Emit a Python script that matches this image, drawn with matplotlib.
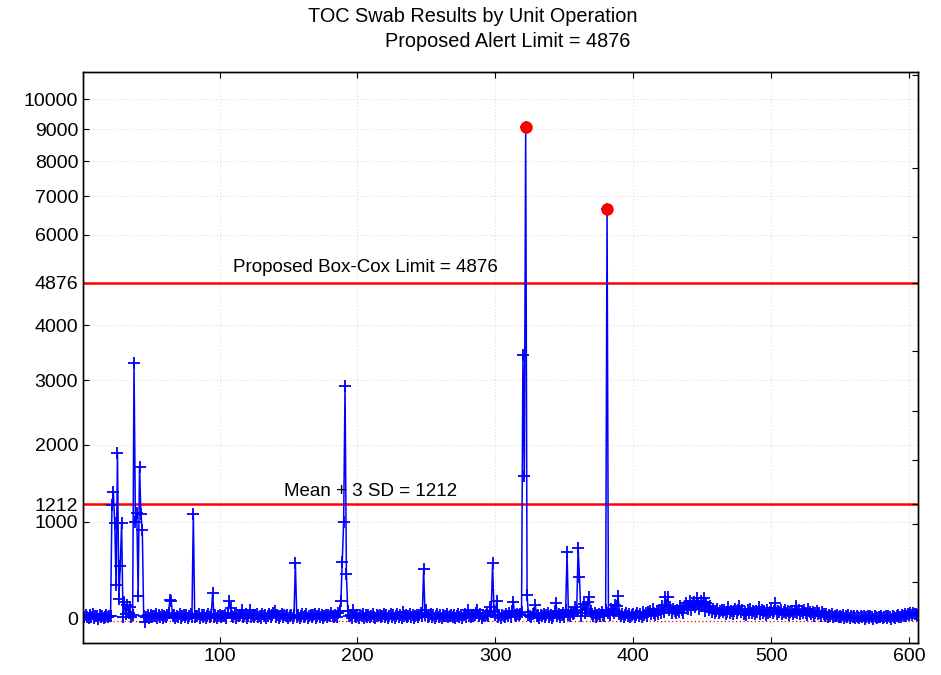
import numpy as np
import matplotlib
matplotlib.use("Agg")
from matplotlib import pyplot as plt

plt.rcParams['font.family'] = ['Liberation Sans', 'DejaVu Sans']

# TOC swab results, one value per sample
toc = [
    22, 8, 31, 15, 2, 27, 12, 35, 5, 18, 25, -2, 30, 10, 20, 4, 16, 34, 9, 23,
    20, 1200, 1365, 988, 317, 1876, 184, 510, 983, 10, 152, 35, 122, 50, 100, 10, 30, 3295, 1000, 1099,
    209, 1692, 1090, 904, 20, -30, 15, 28, 2, 32, 8, 23, 17, 36, 5, 26, 12, 30, 0, 21,
    14, 29, 45, 175, 160, 18, 34, 6, 25, 16, 38, 2, 20, 27, 10, 33, 4, 19, 40, 12,
    1090, 8, 24, 17, 35, 1, 28, 13, 31, 6, 22, 37, 10, 26, 241, 15, 30, 3, 21, 34,
    9, 25, 18, 32, 5, 50, 161, 92, 23, 14, 36, 7, 28, 19, 31, 76, 12, 25, 38, 4,
    20, 76, 16, 33, 8, 27, 40, 11, 24, 2, 35, 17, 29, 6, 22, 38, 13, 26, 45, 70,
    15, 30, 4, 23, 37, 9, 28, 18, 34, 1, 20, 32, 7, 26, 545, 16, 29, 5, 21, 36,
    12, 25, 38, 3, 19, 31, 10, 27, 42, 6, 23, 35, 14, 28, 2, 20, 33, 9, 26, 17,
    50, 24, 8, 32, 15, 45, 70, 160, 549, 1000, 2906, 430, 70, 18, 30, 5, 76, 23, 11, 34,
    7, 26, 19, 35, 2, 28, 14, 31, 9, 23, 37, 16, 4, 29, 20, 33, 8, 25, 40, 12,
    27, 1, 21, 36, 15, 30, 6, 24, 38, 11, 26, 3, 55, 18, 32, 9, 23, 35, 14, 28,
    5, 20, 34, 10, 26, 45, 17, 476, 30, 76, 8, 24, 37, 13, 29, 2, 21, 35, 16, 27,
    4, 31, 19, 25, 38, 9, 22, 33, 12, 28, 6, 20, 36, 15, 30, 3, 26, 40, 11, 76,
    24, 8, 34, 17, 29, 50, 76, 21, 35, 7, 26, 18, 32, 45, 23, 101, 60, 538, 70, 30,
    161, 15, 28, 4, 33, 20, 9, 37, 25, 50, 12, 70, 153, 31, 18, 40, 26, 35, 60, 3440,
    1570, 9075, 220, 30, 22, 8, 35, 50, 122, 17, 28, 5, 32, 20, 38, 11, 26, 45, 14, 30,
    7, 23, 70, 140, 19, 36, 9, 27, 50, 15, 80, 660, 31, 20, 60, 35, 45, 100, 70, 700,
    400, 25, 80, 130, 50, 90, 150, 195, 70, 35, 20, 50, 10, 28, 40, 17, 60, 32, 25, 80,
    6660, 50, 30, 90, 70, 45, 120, 110, 209, 40, 25, 38, 12, 30, 45, 20, 35, 8, 28, 42,
    16, 33, 50, 25, 40, 10, 60, 30, 45, 20, 55, 70, 35, 83, 50, 30, 65, 40, 80, 50,
    110, 60, 200, 120, 200, 80, 107, 50, 90, 65, 45, 80, 60, 110, 75, 50, 100, 140, 110, 90,
    161, 80, 120, 150, 100, 193, 130, 90, 160, 110, 193, 70, 138, 100, 80, 113, 60, 85, 50, 70,
    90, 45, 65, 80, 55, 75, 40, 60, 101, 50, 70, 35, 65, 85, 45, 75, 113, 55, 80, 40,
    60, 30, 75, 50, 85, 45, 65, 35, 70, 55, 101, 40, 80, 50, 65, 30, 75, 45, 60, 92,
    50, 70, 138, 40, 65, 55, 80, 35, 60, 75, 45, 65, 30, 55, 70, 40, 60, 113, 50, 75,
    35, 65, 45, 80, 50, 30, 83, 60, 40, 55, 25, 45, 65, 35, 50, 20, 61, 40, 25, 35,
    15, 30, 20, 35, 10, 25, 18, 32, 8, 23, 15, 28, 5, 20, 12, 26, 2, 18, 10, 24,
    6, 20, 14, 0, 22, 8, 17, -2, 15, 25, 4, 19, 10, -5, 21, 12, 2, 16, 8, 23,
    0, 14, 20, 5, 17, 10, -2, 22, 12, 4, 18, 26, 8, 15, 30, 20, 35, 25, 40, 28,
    45, 32, 50, 38, 42, 30,
]

alert_limit = 4876
mean_3sd = 1212
lower_ref = -25

y_ticks = [0, 1000, 1212, 2000, 3000, 4000, 4876, 6000, 7000, 8000, 9000, 10000]
right_ticks = [350, 970, 1212, 1780, 2510, 3510, 4876, 5950, 7810, 10900]
x_ticks = [100, 200, 300, 400, 500, 600]

SHIFT = 3500.0


def fwd(y):
    return np.log(np.maximum(np.asarray(y, dtype=float) + SHIFT, 1e-6))


def inv(v):
    return np.exp(v) - SHIFT


x = np.arange(1, len(toc) + 1)
vals = np.array(toc, dtype=float)

fig = plt.figure(figsize=(9.41, 6.75), dpi=100)
ax = fig.add_axes([0.0882, 0.047, 0.8874, 0.8463])
ax.set_yscale('function', functions=(fwd, inv))

ax.plot(x, vals, color='#0000ff', lw=1.1, marker='+', ms=9, mew=1.3, zorder=3)
over = vals > alert_limit
ax.plot(x[over], vals[over], 'o', color='red', ms=8, zorder=4)

ax.axhline(alert_limit, color='red', lw=1.8, zorder=2)
ax.axhline(mean_3sd, color='red', lw=1.8, zorder=2)
ax.axhline(lower_ref, color='red', lw=0.9, ls=(0, (1, 2)), zorder=2)

ax.text(110, alert_limit * 1.03, 'Proposed Box-Cox Limit = 4876', fontsize=13.5, va='bottom')
ax.text(147, mean_3sd * 1.04, 'Mean + 3 SD = 1212', fontsize=13.5, va='bottom')

ax.set_xlim(1, 606.5)
ax.set_ylim(-220, 11000)
ax.set_yticks(y_ticks)
ax.set_yticklabels([str(t) for t in y_ticks])
ax.set_xticks(x_ticks)
ax.minorticks_off()
ax.tick_params(direction='in', labelsize=14, length=4, top=True)
ax.grid(True, color='#dddddd', ls=(0, (1, 2)), lw=0.8)
ax.set_axisbelow(True)

rax = ax.twinx()
rax.set_yscale('function', functions=(fwd, inv))
rax.set_ylim(ax.get_ylim())
rax.set_yticks(right_ticks)
rax.minorticks_off()
rax.tick_params(direction='in', length=4, labelright=False)

for a in (ax, rax):
    for s in a.spines.values():
        s.set_linewidth(1.0)

fig.text(0.502, 0.975, 'TOC Swab Results by Unit Operation', ha='center', va='center', fontsize=14.3)
fig.text(0.54, 0.938, 'Proposed Alert Limit = 4876', ha='center', va='center', fontsize=14.3)

fig.savefig('out.png', dpi=100)
